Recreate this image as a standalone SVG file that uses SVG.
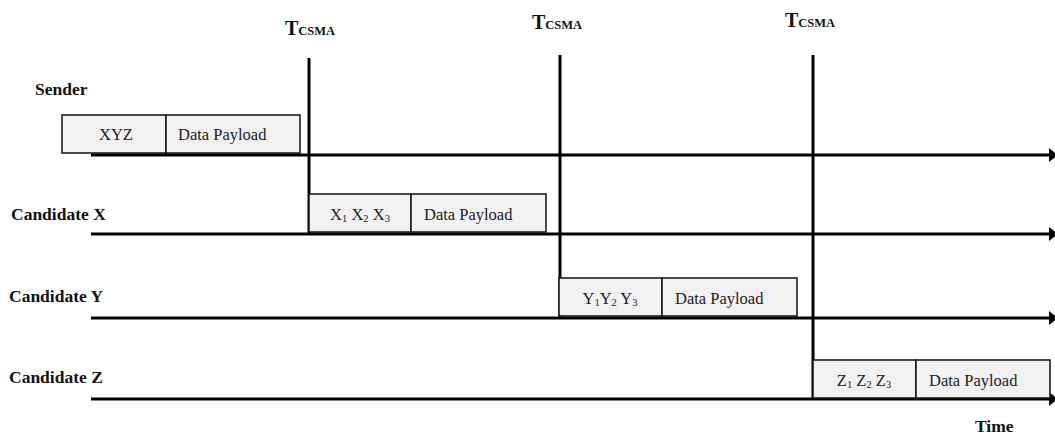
<svg xmlns="http://www.w3.org/2000/svg" width="1055" height="437" viewBox="0 0 1055 437">
  <defs>
    <marker id="arrow" viewBox="0 0 9 14" refX="9" refY="7" markerWidth="3" markerHeight="4.67" markerUnits="strokeWidth" orient="auto">
      <path d="M0,0 L9,7 L0,14 Z" fill="#000"/>
    </marker>
    <style>
      .axis { stroke: #000; stroke-width: 3; fill: none; }
      .tick { stroke: #000; stroke-width: 3; fill: none; }
      .box { fill: #f2f2f2; stroke: #111; stroke-width: 1.5; }
      .lbl { font-family: "Liberation Serif", serif; font-weight: bold; font-size: 17.5px; fill: #111; }
      .txt { font-family: "Liberation Serif", serif; font-size: 16.5px; fill: #222; }
      .sub { font-size: 10.5px; }
      .tc { font-family: "Liberation Serif", serif; font-weight: bold; font-size: 20px; fill: #111; }
      .tcs { font-size: 12.5px; }
    </style>
  </defs>

  <!-- time axes and CSMA markers -->
  <g id="connectors">
    <line class="axis" x1="91" y1="155" x2="1058" y2="155" marker-end="url(#arrow)"/>
    <line class="axis" x1="91" y1="234" x2="1058" y2="234" marker-end="url(#arrow)"/>
    <line class="axis" x1="91" y1="318" x2="1058" y2="318" marker-end="url(#arrow)"/>
    <line class="axis" x1="91" y1="399" x2="1058" y2="399" marker-end="url(#arrow)"/>
    <line class="tick" x1="309" y1="58" x2="309" y2="234"/>
    <line class="tick" x1="560" y1="55" x2="560" y2="318"/>
    <line class="tick" x1="813" y1="55" x2="813" y2="399"/>
  </g>

  <!-- CSMA labels -->
  <g id="tcsma-1"><text class="tc" x="285" y="35">T<tspan class="tcs">CSMA</tspan></text></g>
  <g id="tcsma-2"><text class="tc" x="532" y="29">T<tspan class="tcs">CSMA</tspan></text></g>
  <g id="tcsma-3"><text class="tc" x="785" y="27">T<tspan class="tcs">CSMA</tspan></text></g>

  <!-- row labels -->
  <g id="label-sender"><text class="lbl" x="35" y="95">Sender</text></g>
  <g id="label-x"><text class="lbl" x="11" y="220">Candidate X</text></g>
  <g id="label-y"><text class="lbl" x="9" y="302">Candidate Y</text></g>
  <g id="label-z"><text class="lbl" x="9" y="383">Candidate Z</text></g>
  <g id="label-time"><text class="lbl" x="975" y="432">Time</text></g>

  <!-- sender frame -->
  <g id="frame-sender">
    <rect class="box" x="62" y="115" width="104" height="38"/>
    <rect class="box" x="166" y="115" width="134" height="38"/>
    <text class="txt" x="116" y="140" text-anchor="middle">XYZ</text>
    <text class="txt" x="178" y="140">Data Payload</text>
  </g>

  <!-- candidate X frame -->
  <g id="frame-x">
    <rect class="box" x="309" y="194" width="102" height="38"/>
    <rect class="box" x="411" y="194" width="135" height="38"/>
    <text class="txt" x="360" y="220" text-anchor="middle">X<tspan class="sub" dy="2">1</tspan><tspan dy="-2"> X</tspan><tspan class="sub" dy="2">2</tspan><tspan dy="-2"> X</tspan><tspan class="sub" dy="2">3</tspan></text>
    <text class="txt" x="424" y="220">Data Payload</text>
  </g>

  <!-- candidate Y frame -->
  <g id="frame-y">
    <rect class="box" x="559" y="278" width="103" height="38"/>
    <rect class="box" x="662" y="278" width="135" height="38"/>
    <text class="txt" x="610" y="304" text-anchor="middle">Y<tspan class="sub" dy="2">1</tspan><tspan dy="-2">Y</tspan><tspan class="sub" dy="2">2</tspan><tspan dy="-2"> Y</tspan><tspan class="sub" dy="2">3</tspan></text>
    <text class="txt" x="675" y="304">Data Payload</text>
  </g>

  <!-- candidate Z frame -->
  <g id="frame-z">
    <rect class="box" x="813" y="360" width="103" height="38"/>
    <rect class="box" x="916" y="360" width="134" height="38"/>
    <text class="txt" x="864" y="386" text-anchor="middle">Z<tspan class="sub" dy="2">1</tspan><tspan dy="-2"> Z</tspan><tspan class="sub" dy="2">2</tspan><tspan dy="-2"> Z</tspan><tspan class="sub" dy="2">3</tspan></text>
    <text class="txt" x="929" y="386">Data Payload</text>
  </g>
</svg>
